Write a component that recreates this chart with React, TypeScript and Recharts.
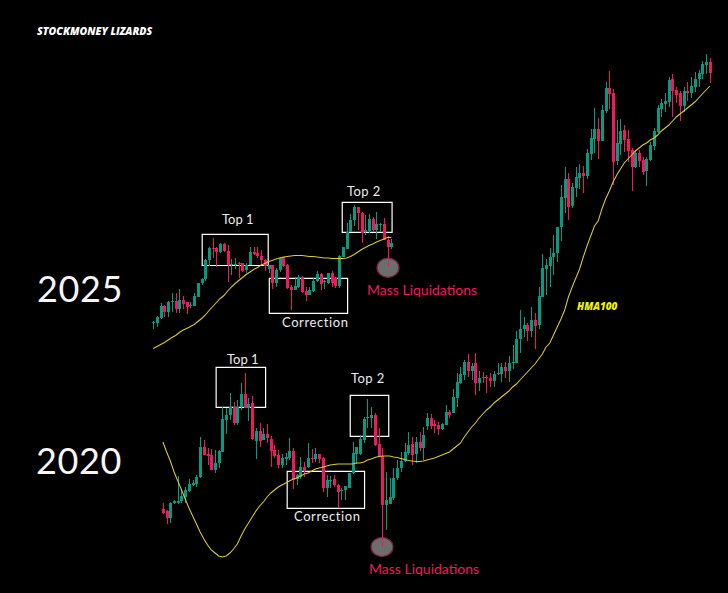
import { Bar, ComposedChart, Line, ReferenceArea, ReferenceDot, XAxis, YAxis } from 'recharts';

const WIDTH = 728;
const HEIGHT = 593;
const UP = '#089981';
const DOWN = '#f0185f';
const HMA = '#dccb2e';
const FONT = 'Lato, sans-serif';

// 2025 fractal runs on the same time grid, it just starts a bit earlier
const TOP_SHIFT = -2.6;

const topOpen = [
  270, 270, 275, 287, 281, 291, 292, 284, 293, 291,
  287, 287, 296, 310, 314, 333, 345, 345, 341, 349,
  342, 328, 328, 330, 330, 323, 328, 341, 340, 337,
  333, 324, 328, 310, 323, 336, 328, 306, 303, 306,
  316, 302, 298, 302, 312, 319, 311, 310, 320, 315,
  307, 336, 344, 361, 373, 386, 380, 361, 362, 374,
  363, 368, 369, 353, 346,
];
const topClose = [
  271, 276, 287, 281, 291, 292, 284, 293, 289, 286,
  288, 297, 310, 314, 333, 345, 344, 341, 349, 342,
  328, 329, 329, 329, 322, 328, 341, 339, 337, 333,
  327, 328, 310, 323, 335, 327, 305, 303, 307, 316,
  301, 298, 303, 312, 319, 309, 312, 320, 310, 307,
  337, 346, 361, 373, 386, 380, 360, 363, 374, 363,
  369, 369, 353, 346, 350,
];
const topHigh = [
  272, 277, 290, 288, 292, 300, 300, 304, 297, 291,
  291, 300, 310, 315, 334, 346, 355, 346, 350, 350,
  348, 334, 335, 331, 330, 330, 346, 346, 346, 343,
  334, 328, 328, 325, 335, 336, 329, 308, 316, 318,
  317, 306, 306, 315, 322, 320, 313, 320, 322, 316,
  338, 346, 370, 379, 388, 386, 381, 378, 379, 376,
  381, 370, 375, 357, 354,
];
const topLow = [
  264, 266, 274, 276, 276, 281, 280, 280, 284, 279,
  285, 287, 296, 308, 312, 327, 335, 326, 340, 341,
  311, 318, 324, 315, 321, 320, 328, 338, 335, 328,
  322, 320, 304, 306, 321, 326, 304, 283, 303, 305,
  300, 292, 298, 301, 311, 303, 304, 309, 306, 305,
  305, 336, 344, 361, 367, 363, 350, 358, 360, 361,
  354, 361, 353, 326, 344,
];
const topHma = [
  244.5, 246.5, 248.5, 250.5, 253, 255.5, 257.5, 260.5, 263, 264.5,
  266.5, 268.5, 271.5, 274.5, 278, 282.5, 286.5, 290.5, 294.5, 297.5,
  302, 306, 309.5, 312.5, 315.5, 318.5, 321, 323.5, 325.5, 328,
  329.5, 331.5, 332.5, 334, 335, 336, 336.5, 337, 337.5, 337.5,
  337.5, 337, 336.5, 336.5, 336, 335.5, 335, 335, 334.5, 334.5,
  334.5, 334.5, 335, 336.5, 338.5, 341, 343.5, 345.5, 347.5, 349,
  351, 352.5, 354, 355.5, 355.5,
];

const bottomOpen = [
  84, 82, 75, 90, 90, 92, 96, 102, 108, 109,
  116, 146, 139, 138, 123, 130, 141, 173, 178, 186,
  170, 186, 199, 185, 190, 152, 162, 153, 159, 154,
  143, 138, 128, 134, 135, 142, 114, 116, 126, 126,
  135, 134, 139, 135, 105, 112, 114, 108, 102, 103,
  105, 120, 139, 139, 153, 175, 175, 178, 149, 137,
  88, 89, 95, 115, 125, 132, 140, 149, 139, 151,
  145, 167, 175, 169, 168, 164, 168, 181, 180, 195,
  210, 218, 231, 222, 230, 210, 216, 216, 215, 212,
  219, 219, 226, 222, 230, 230, 254, 264, 268, 262,
  273, 268, 296, 324, 327, 336, 340, 366, 395, 414,
  387, 405, 415, 420, 417, 439, 454, 464, 452, 482,
  505, 500, 432, 449, 463, 454, 443, 426, 440, 433,
  422, 433, 447, 461, 484, 489, 491, 514, 503, 500,
  487, 502, 500, 506, 514, 519, 528, 531,
];
const bottomClose = [
  80, 75, 90, 92, 92, 97, 103, 109, 110, 116,
  146, 138, 137, 123, 130, 142, 174, 178, 186, 170,
  186, 199, 185, 189, 154, 162, 152, 159, 155, 142,
  137, 128, 135, 136, 142, 113, 118, 126, 122, 135,
  134, 139, 134, 105, 113, 113, 108, 101, 103, 107,
  120, 140, 146, 154, 174, 176, 178, 148, 136, 88,
  93, 96, 115, 125, 132, 141, 148, 138, 151, 145,
  158, 175, 167, 167, 164, 169, 181, 178, 196, 211,
  219, 231, 222, 227, 210, 215, 215, 215, 212, 219,
  220, 226, 222, 230, 231, 254, 264, 268, 262, 273,
  267, 297, 325, 328, 336, 340, 366, 396, 414, 386,
  406, 416, 420, 417, 440, 455, 464, 452, 483, 505,
  499, 431, 450, 462, 453, 442, 426, 440, 432, 421,
  434, 448, 462, 485, 490, 492, 513, 502, 498, 487,
  502, 500, 507, 514, 520, 529, 531, 520,
];
const bottomHigh = [
  90, 83, 91, 93, 117, 104, 106, 114, 113, 118,
  156, 153, 145, 144, 143, 143, 186, 185, 200, 191,
  193, 210, 220, 195, 197, 165, 170, 165, 169, 157,
  148, 143, 139, 140, 155, 145, 119, 136, 131, 150,
  144, 145, 139, 136, 118, 117, 118, 109, 105, 107,
  120, 151, 146, 158, 176, 194, 186, 180, 165, 145,
  121, 115, 125, 133, 141, 150, 161, 156, 156, 161,
  166, 180, 179, 173, 171, 170, 188, 183, 204, 220,
  226, 233, 239, 230, 240, 222, 221, 218, 220, 222,
  230, 230, 231, 237, 248, 262, 283, 276, 270, 286,
  280, 306, 339, 334, 345, 358, 366, 408, 426, 420,
  410, 426, 429, 427, 444, 464, 485, 475, 488, 511,
  522, 504, 473, 474, 468, 463, 445, 443, 443, 436,
  436, 451, 465, 488, 494, 500, 516, 519, 506, 502,
  506, 511, 516, 521, 523, 532, 539, 535,
];
const bottomLow = [
  79, 69, 70, 89, 89, 90, 90, 101, 107, 106,
  115, 138, 128, 123, 120, 125, 141, 159, 173, 168,
  168, 183, 185, 172, 153, 134, 146, 153, 150, 126,
  135, 125, 125, 128, 133, 104, 108, 114, 116, 125,
  130, 131, 130, 101, 96, 105, 106, 85, 93, 93,
  105, 119, 129, 138, 150, 165, 165, 147, 136, 46,
  63, 89, 93, 113, 121, 131, 138, 128, 130, 142,
  133, 163, 164, 160, 158, 163, 168, 175, 180, 186,
  209, 213, 216, 213, 198, 202, 210, 200, 206, 206,
  218, 211, 215, 211, 224, 230, 240, 256, 252, 256,
  244, 264, 296, 298, 306, 318, 331, 352, 380, 373,
  385, 396, 404, 400, 414, 433, 440, 434, 452, 480,
  484, 408, 428, 438, 441, 431, 402, 425, 426, 418,
  407, 432, 443, 460, 476, 481, 486, 476, 490, 472,
  481, 492, 495, 501, 506, 514, 519, 510,
];
const bottomHma = [
  151, 141, 132, 121, 112, 103, 94, 85, 77, 69,
  61, 54, 48, 43, 40, 37, 36, 37, 40, 44,
  49, 57, 64, 70, 76, 82, 87, 91, 96, 100,
  103, 106, 108, 110, 112, 114, 115, 117, 119, 120,
  122, 124, 125, 126, 127, 128, 128.5, 129, 129, 129,
  129, 129, 130, 130, 131, 133, 134, 135.5, 136.5, 137,
  137, 137, 136, 135.5, 134.5, 133.5, 132.5, 132, 131.5, 131.5,
  132, 133, 134, 135, 136.5, 138, 139.5, 141, 144, 147,
  150, 156, 161, 166, 170, 175, 179, 183, 186, 190,
  193, 196, 199, 202, 206, 209, 213, 217, 221, 225,
  229, 234, 239, 246, 250, 258, 266, 274, 283, 296,
  306, 315, 324, 336, 347, 357, 367, 372, 384, 394,
  402, 411, 418, 424, 430, 434, 438, 442, 445, 448,
  450, 453, 455, 458, 462, 465, 468, 472, 476, 479,
  482, 485, 488, 491, 495, 499, 503, 507,
];

const rows = [
  ...topOpen.map((open, i) => ({
    slot: i + TOP_SHIFT,
    range: [topLow[i], topHigh[i]],
    open,
    close: topClose[i],
    high: topHigh[i],
    low: topLow[i],
    hmaTop: topHma[i],
  })),
  ...bottomOpen.map((open, i) => ({
    slot: i,
    range: [bottomLow[i], bottomHigh[i]],
    open,
    close: bottomClose[i],
    high: bottomHigh[i],
    low: bottomLow[i],
    hmaBottom: bottomHma[i],
  })),
].sort((a, b) => a.slot - b.slot);

function Candle(props: any) {
  const { x, y, width, height, payload } = props;
  if (!payload || !height) return null;
  const { open, close, high, low } = payload;
  const center = Math.round(x + width / 2);
  const perUnit = Math.abs(height) / (high - low);
  const top = y + (high - Math.max(open, close)) * perUnit;
  const bodyHeight = Math.max(Math.abs(open - close) * perUnit, 1);
  const color = close >= open ? UP : DOWN;
  return (
    <g shapeRendering="crispEdges">
      <rect x={center} y={y} width={1} height={Math.abs(height)} fill={color} />
      <rect x={center - 1} y={top} width={3} height={bodyHeight} fill={color} />
    </g>
  );
}

function Blob(props: any) {
  return <ellipse cx={props.cx} cy={props.cy} rx={11} ry={9.6} fill="#8c8c8c" fillOpacity={0.78} stroke="#7a1f3f" strokeWidth={1.2} />;
}

function Note({ x, y, size = 13, color = '#ececec', spacing = 0, children }: any) {
  return (
    <text x={x} y={y} fontFamily={FONT} fontSize={size} fill={color} letterSpacing={spacing}>
      {children}
    </text>
  );
}

export default function App() {
  return (
    <div style={{ position: 'absolute', left: 0, top: 0, width: WIDTH, height: HEIGHT, background: '#000' }}>
      <ComposedChart width={WIDTH} height={HEIGHT} data={rows} margin={{ top: 0, right: 0, bottom: 0, left: 0 }}>
        <XAxis hide type="number" dataKey="slot" domain={[-43.8, 151.9]} />
        <YAxis hide type="number" domain={[0, 593]} />
        <Line dataKey="hmaTop" stroke={HMA} strokeWidth={1.05} dot={false} activeDot={false} connectNulls isAnimationActive={false} />
        <Line dataKey="hmaBottom" stroke={HMA} strokeWidth={1.05} dot={false} activeDot={false} connectNulls isAnimationActive={false} />
        <Bar dataKey="range" barSize={3} shape={Candle} isAnimationActive={false} />
        <ReferenceArea x1={10.56} x2={28.3} y1={358.7} y2={327.5} fill="none" stroke="#fff" strokeWidth={1.2} />
        <ReferenceArea x1={28.6} x2={49.65} y1={314.7} y2={279.7} fill="none" stroke="#fff" strokeWidth={1.2} />
        <ReferenceArea x1={48.2} x2={61.6} y1={390.7} y2={360.7} fill="none" stroke="#fff" strokeWidth={1.2} />
        <ReferenceArea x1={14.3} x2={27.6} y1={225.7} y2={185.7} fill="none" stroke="#fff" strokeWidth={1.2} />
        <ReferenceArea x1={33.4} x2={54.2} y1={121.7} y2={84.7} fill="none" stroke="#fff" strokeWidth={1.2} />
        <ReferenceArea x1={50.35} x2={60.7} y1={197.7} y2={156.7} fill="none" stroke="#fff" strokeWidth={1.2} />
        <ReferenceDot x={60.5} y={325.3} shape={Blob} zIndex={200} />
        <ReferenceDot x={58.9} y={46} shape={Blob} zIndex={200} />
        <text x={37} y={35} fontFamily="'Open Sans', sans-serif" fontSize={10.5} fontWeight={800} fontStyle="italic" fill="#fff">
          STOCKMONEY LIZARDS
        </text>
        <text x={577} y={310} fontFamily="'Open Sans', sans-serif" fontSize={10} fontWeight={800} fontStyle="italic" fill="#f0f000">
          HMA100
        </text>
        <Note x={37} y={302} size={36} spacing={0.6} color="#f6f6f6">2025</Note>
        <Note x={36} y={474} size={36} spacing={0.6} color="#f6f6f6">2020</Note>
        <Note x={222} y={224}>Top 1</Note>
        <Note x={282} y={327} spacing={0.6}>Correction</Note>
        <Note x={347} y={196} spacing={0.4}>Top 2</Note>
        <Note x={227} y={364}>Top 1</Note>
        <Note x={294} y={521} spacing={0.6}>Correction</Note>
        <Note x={351} y={383} spacing={0.4}>Top 2</Note>
        <Note x={367} y={295} size={14} color={DOWN}>Mass Liquidations</Note>
        <Note x={369} y={574} size={14} color={DOWN}>Mass Liquidations</Note>
      </ComposedChart>
    </div>
  );
}
